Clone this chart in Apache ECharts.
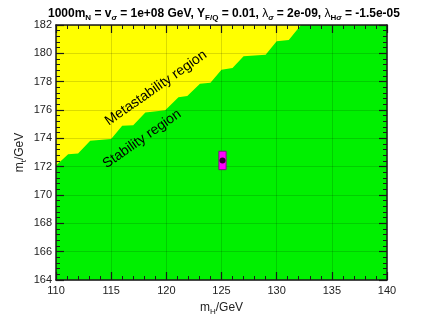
<!DOCTYPE html>
<html>
<head>
<meta charset="utf-8">
<script src="https://cdn.jsdelivr.net/npm/echarts@6/dist/echarts.min.js"></script>
<style>
html,body{margin:0;padding:0;background:#fff;}
#c{width:428px;height:321px;}
</style>
</head>
<body>
<div id="c"></div>
<script>
// Stability / metastability boundary (m_H in GeV, m_t in GeV)
const boundaryMH = [110, 111.1, 112.0, 113.1, 115.0, 116.0, 117.0, 118.1, 119.9, 121.1, 121.9, 123.05, 124.0, 125.0, 126.0, 127.0, 129.0, 130.0, 131.1, 132.2, 140];
const boundaryMT = [172.08, 172.88, 172.93, 173.83, 173.95, 174.88, 174.93, 175.82, 175.98, 176.9, 176.98, 177.85, 177.92, 178.85, 178.97, 179.8, 179.9, 180.85, 180.95, 182.0, 182.0];

// Measured point with uncertainties
const pointMH = [125.09];
const pointMT = [172.44];
const pointMHErr = [0.33];
const pointMTErr = [0.65];

// Axis settings
const xRange = [110, 140];
const yRange = [164, 182];
const xStep = 5;
const yStep = 2;

const regionLabels = ['Metastability region', 'Stability region'];

const FONT = "'Liberation Sans', Arial, Helvetica, sans-serif";
const chart = echarts.init(document.getElementById('c'), null, {renderer: 'canvas'});

const areaData = boundaryMH.map((x, i) => [x, boundaryMT[i]]);
const boxData = pointMH.map((x, i) => [x, pointMT[i], pointMHErr[i], pointMTErr[i]]);
const dotData = pointMH.map((x, i) => [x, pointMT[i]]);

const frameLine = {show: true, onZero: false, lineStyle: {color: '#1a1a1a', width: 1.5}};
const majorTick = {show: true, inside: true, length: 8, lineStyle: {color: '#1a1a1a', width: 1.2}};
const minorTick = {show: true, splitNumber: 5, length: 4, lineStyle: {color: '#1a1a1a', width: 1}};
const gridLine = {color: 'rgba(0,0,0,0.14)', width: 1};

const subStyle = {fontFamily: FONT, fontSize: 8, fontWeight: 'bold', padding: [9, 0, 0, 0], color: '#000'};
const subItal = {fontFamily: FONT, fontSize: 8, fontStyle: 'italic', padding: [9, 0, 0, 0], color: '#000'};

chart.setOption({
  animation: false,
  backgroundColor: '#fff',
  title: {
    text: '1000m{sub|N} = v{si|σ} = 1e+08 GeV, Y{sub|F/Q} = 0.01, {gk|λ}{si|σ} = 2e-09, {gk|λ}{sub|H}{si|σ} = -1.5e-05',
    left: 43,
    top: 0,
    textStyle: {
      fontFamily: FONT, fontSize: 12, fontWeight: 'bold', color: '#000',
      rich: {
        sub: subStyle,
        si: subItal,
        gk: {fontFamily: FONT, fontSize: 12, fontWeight: 'normal', color: '#000'}
      }
    }
  },
  grid: {left: 56, right: 41, top: 25, bottom: 39, show: true, backgroundColor: '#ffff00', borderWidth: 0},
  xAxis: [
    {
      type: 'value', min: xRange[0], max: xRange[1], interval: xStep, position: 'bottom', z: 10,
      axisLine: frameLine, axisTick: majorTick, minorTick: minorTick,
      splitLine: {show: true, lineStyle: gridLine},
      axisLabel: {fontFamily: FONT, fontSize: 11, color: '#222', margin: 5},
      name: 'm{sub|H}/GeV', nameLocation: 'middle', nameGap: 19, nameMoveOverlap: false,
      nameTextStyle: {fontFamily: FONT, fontSize: 12, color: '#222',
        rich: {sub: {fontFamily: FONT, fontSize: 8, color: '#222', padding: [9, 0, 0, 0]}}}
    },
    {
      type: 'value', min: xRange[0], max: xRange[1], interval: xStep, position: 'top', z: 10,
      axisLine: frameLine, axisTick: majorTick, minorTick: minorTick,
      splitLine: {show: false}, axisLabel: {show: false}
    }
  ],
  yAxis: [
    {
      type: 'value', min: yRange[0], max: yRange[1], interval: yStep, position: 'left', z: 10,
      axisLine: frameLine, axisTick: majorTick, minorTick: minorTick,
      splitLine: {show: true, lineStyle: gridLine},
      axisLabel: {fontFamily: FONT, fontSize: 11, color: '#222', margin: 4},
      name: 'm{sub|t}/GeV', nameLocation: 'middle', nameGap: 28, nameMoveOverlap: false,
      nameTextStyle: {fontFamily: FONT, fontSize: 12, color: '#222',
        rich: {sub: {fontFamily: FONT, fontSize: 8, color: '#222', padding: [9, 0, 0, 0]}}}
    },
    {
      type: 'value', min: yRange[0], max: yRange[1], interval: yStep, position: 'right', z: 10,
      axisLine: frameLine, axisTick: majorTick, minorTick: minorTick,
      splitLine: {show: false}, axisLabel: {show: false}
    }
  ],
  series: [
    {
      type: 'line', xAxisIndex: 0, yAxisIndex: 0, data: areaData,
      showSymbol: false, symbol: 'none', z: 2,
      lineStyle: {width: 0, opacity: 0},
      areaStyle: {color: '#00f000', opacity: 1, origin: 'start'}
    },
    {
      type: 'custom', xAxisIndex: 0, yAxisIndex: 0, data: boxData, z: 20,
      renderItem: function (params, api) {
        const x = api.value(0), y = api.value(1), dx = api.value(2), dy = api.value(3);
        const p1 = api.coord([x - dx, y + dy]);
        const p2 = api.coord([x + dx, y - dy]);
        return {
          type: 'rect',
          shape: {x: p1[0], y: p1[1], width: p2[0] - p1[0], height: p2[1] - p1[1]},
          style: {fill: '#ff00ff', stroke: '#7a1a7a', lineWidth: 1}
        };
      }
    },
    {
      type: 'scatter', xAxisIndex: 0, yAxisIndex: 0, data: dotData, z: 21,
      symbol: 'circle', symbolSize: 6, itemStyle: {color: '#000'}
    }
  ],
  graphic: [
    {
      type: 'text', x: 156, y: 88, rotation: 35 * Math.PI / 180, z: 30,
      style: {text: regionLabels[0], fontFamily: FONT, fontSize: 14, fill: '#000',
        textAlign: 'center', textVerticalAlign: 'middle', align: 'center', verticalAlign: 'middle'}
    },
    {
      type: 'text', x: 142, y: 139, rotation: 35 * Math.PI / 180, z: 30,
      style: {text: regionLabels[1], fontFamily: FONT, fontSize: 14, fill: '#000',
        textAlign: 'center', textVerticalAlign: 'middle', align: 'center', verticalAlign: 'middle'}
    }
  ]
});
</script>
</body>
</html>
